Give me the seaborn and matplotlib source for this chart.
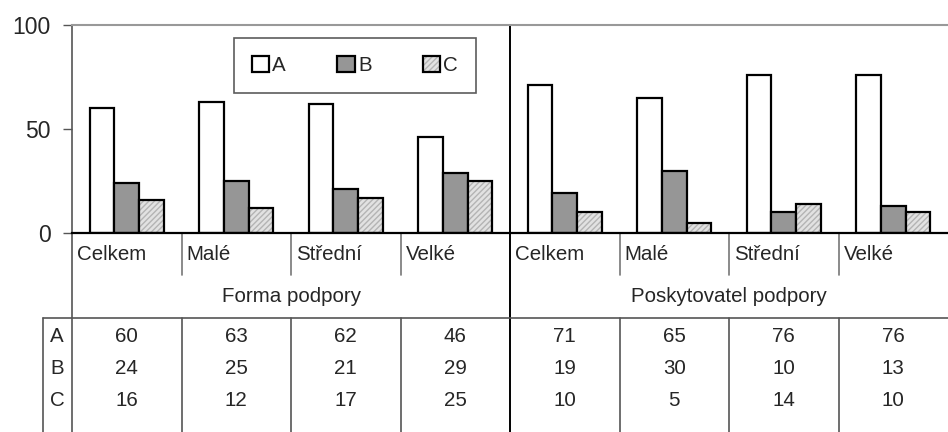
import numpy as np
import pandas as pd
import matplotlib
matplotlib.use("Agg")
import matplotlib.pyplot as plt
from matplotlib.lines import Line2D
from matplotlib.colors import to_rgba
import seaborn as sns

groups = ["Forma podpory", "Poskytovatel podpory"]
categories = ["Celkem", "Malé", "Střední", "Velké"]
series = ["A", "B", "C"]
values_A = [60, 63, 62, 46, 71, 65, 76, 76]
values_B = [24, 25, 21, 29, 19, 30, 10, 13]
values_C = [16, 12, 17, 25, 10, 5, 14, 10]
yticks = [0, 50, 100]

sns.set_style("white")
plt.rcParams["font.family"] = ["Liberation Sans", "DejaVu Sans"]

W, H = 948, 432
fig = plt.figure(figsize=(W / 100, H / 100), dpi=100)
ax_left, ax_top, ax_bottom = 72, 25, 233
ax = fig.add_axes([ax_left / W, 1 - ax_bottom / H, (W - ax_left) / W, (ax_bottom - ax_top) / H])

keys = [f"{g}|{c}" for g in groups for c in categories]
rows = []
for s, vals in zip(series, [values_A, values_B, values_C]):
    for k, v in zip(keys, vals):
        rows.append({"cat": k, "series": s, "value": v})
df = pd.DataFrame(rows)

palette = {"A": "#ffffff", "B": "#969696", "C": "#e2e2e2"}
hatch_col = to_rgba("#b4b4b4")
sns.barplot(data=df, x="cat", y="value", hue="series", order=keys, hue_order=series,
            palette=palette, width=0.68, edgecolor="black", linewidth=1.6,
            saturation=1, ax=ax, legend=False)

# hatch on C bars
for bar in ax.containers[2]:
    bar.set_hatch("//////")
    bar._hatch_color = hatch_col

ax.set_xlim(-0.5, len(keys) - 0.5)
ax.set_ylim(0, 100)
ax.set_yticks(yticks)
ax.set_yticklabels([str(t) for t in yticks], fontsize=16.5)
ax.set_xticks([])
ax.set_xlabel("")
ax.set_ylabel("")
ax.tick_params(axis="y", direction="out", length=6.5, width=1, color="#555555", pad=9, left=True)
ax.spines["right"].set_visible(False)
ax.spines["top"].set_color("#999999")
ax.spines["top"].set_linewidth(1.5)
ax.spines["left"].set_color("#555555")
ax.spines["left"].set_linewidth(1.2)
ax.spines["bottom"].set_color("black")
ax.spines["bottom"].set_linewidth(1.6)

# helpers
ppy = ax_bottom - ax_top  # axis height px
def yax(ypx):
    return (ax_bottom - ypx) / ppy
bt = ax.get_xaxis_transform()
cw = (W - ax_left) / len(keys)  # px per category

def vline(xd, y0, y1, color, lw):
    ax.add_line(Line2D([xd, xd], [yax(y0), yax(y1)], transform=bt, color=color,
                       lw=lw, clip_on=False))

# group separator (full height)
vline(3.5, ax_top, H + 2, "black", 1.4)
# left axis extension downward
vline(-0.5, ax_bottom, H + 2, "#555555", 1.2)
# category separators
for i in range(1, len(keys)):
    if i == 4:
        continue
    vline(i - 0.5, ax_bottom, 275, "#777777", 1.2)
    vline(i - 0.5, 318, H + 2, "#555555", 1.2)

# table top line and row-label column border
x43 = -0.5 - (ax_left - 43) / cw
ax.add_line(Line2D([x43, len(keys) - 0.5], [yax(318), yax(318)], transform=bt,
                   color="#555555", lw=1.2, clip_on=False))
vline(x43, 318, H + 2, "#555555", 1.2)

fs = 14.8
# category labels
for i, k in enumerate(keys):
    ax.text(i - 0.5 + 5 / cw, yax(254), k.split("|")[1], transform=bt, ha="left",
            va="center", fontsize=fs)
# group labels
for gi, g in enumerate(groups):
    ax.text(gi * 4 + 1.5, yax(297), g, transform=bt, ha="center", va="center", fontsize=fs)
# table
row_y = [336, 368, 400]
for s, vals, ry in zip(series, [values_A, values_B, values_C], row_y):
    ax.text(-0.5 - (ax_left - 57) / cw, yax(ry), s, transform=bt, ha="center",
            va="center", fontsize=fs)
    for i, v in enumerate(vals):
        ax.text(i, yax(ry), str(v), transform=bt, ha="center", va="center", fontsize=fs)

# legend
handles = [plt.Rectangle((0, 0), 1, 1, facecolor=palette[s], edgecolor="black", lw=1.6,
                         hatch=("//////" if s == "C" else None)) for s in series]
leg = ax.legend(handles, series, ncol=3, loc="center",
                bbox_to_anchor=(355 / W, 1 - 65.5 / H), bbox_transform=fig.transFigure,
                frameon=True, fancybox=False, edgecolor="#333333", fontsize=fs,
                handlelength=0.85, handleheight=0.85, handletextpad=0.15,
                columnspacing=2.5, borderpad=0.85)
leg.get_frame().set_linewidth(1.2)
for h in leg.legend_handles:
    if h.get_hatch():
        h._hatch_color = hatch_col

fig.savefig("out.png", dpi=100)
